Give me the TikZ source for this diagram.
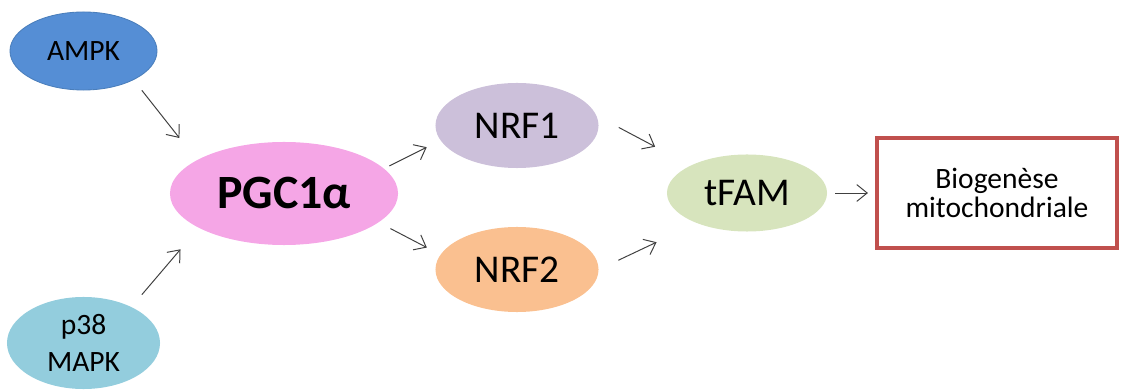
\documentclass[tikz,border=0pt]{standalone}
\usepackage{fontspec}
\setmainfont{Carlito}
\usetikzlibrary{shapes.geometric,arrows.meta}
\definecolor{ampkblue}{HTML}{558ED5}
\definecolor{ampkline}{HTML}{4A7EBB}
\definecolor{mapkblue}{HTML}{93CDDD}
\definecolor{pgcpink}{HTML}{F5A6E6}
\definecolor{nrflilac}{HTML}{CCC0DA}
\definecolor{nrforange}{HTML}{FAC090}
\definecolor{tfamgreen}{HTML}{D7E4BD}
\definecolor{bioborder}{HTML}{C0504D}
\definecolor{arrowgray}{HTML}{404040}
\begin{document}
\begin{tikzpicture}[x=0.025cm,y=-0.025cm,
    prot/.style={ellipse,inner sep=0pt,align=center,text=black},
    small/.style={font=\fontsize{21}{26}\selectfont},
    big/.style={font=\fontsize{28}{32}\selectfont},
    link/.style={-{Straight Barb[length=2.6mm,width=4.2mm]},draw=arrowgray,line width=0.7pt}]
    \useasboundingbox (0,0) rectangle (1122,392);
    \node[prot,small,fill=ampkblue,draw=ampkline,line width=0.6pt,minimum width=3.675cm,minimum height=1.95cm] (ampk) at (83.5,51)  {AMPK};
    \node[prot,small,fill=mapkblue,minimum width=3.825cm,minimum height=2.3cm]  (p38)  at (83.5,343) {p38\\MAPK};
    \node[prot,fill=pgcpink,minimum width=5.7cm,minimum height=2.575cm,font=\fontsize{34}{40}\selectfont\bfseries] (pgc) at (284,193.5) {PGC1α};
    \node[prot,big,fill=nrflilac,minimum width=4.075cm,minimum height=2.125cm]  (nrf1) at (517,125.5) {NRF1};
    \node[prot,big,fill=nrforange,minimum width=4.075cm,minimum height=2.125cm] (nrf2) at (517,269.5) {NRF2};
    \node[prot,big,fill=tfamgreen,minimum width=4cm,minimum height=1.925cm]     (tfam) at (747,193)   {tFAM};
    \node[draw=bioborder,line width=2.6pt,minimum width=6cm,minimum height=2.75cm,align=center,font=\fontsize{21}{21}\selectfont] (bio) at (997,193) {Biogenèse\\mitochondriale};
    \draw[link,shorten <=0.33cm,shorten >=0.70cm]  (ampk.-30)   -- (pgc.159);
    \draw[link,shorten <=0.40cm,shorten >=0.70cm]  (p38.37)     -- (pgc.-158);
    \draw[link,shorten <=0.145cm,shorten >=0.38cm] (pgc.14)     -- (nrf1.-169);
    \draw[link,shorten <=0.33cm,shorten >=0.38cm]  (pgc.-17.6)  -- (nrf2.169);
    \draw[link,shorten <=0.625cm,shorten >=1.0cm]  (nrf1.7.5)   -- (tfam.154.6);
    \draw[link,shorten <=0.54cm,shorten >=1.11cm]  (nrf2.0)     -- (tfam.-149.4);
    \draw[link,shorten <=0.2cm,shorten >=0.18cm]   (tfam)       -- (bio);
\end{tikzpicture}
\end{document}
